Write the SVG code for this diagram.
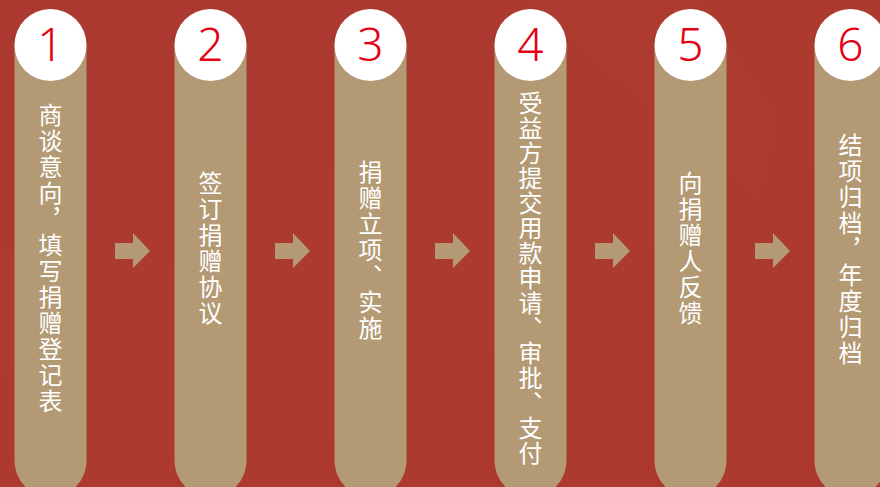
<svg xmlns="http://www.w3.org/2000/svg" width="880" height="487" viewBox="0 0 880 487">
  <defs>
    <linearGradient id="bg" x1="0" y1="0" x2="1" y2="1">
      <stop offset="0" stop-color="#AC3930"/>
      <stop offset="0.5" stop-color="#AD3A2F"/>
      <stop offset="1" stop-color="#AB392F"/>
    </linearGradient>
    <path id="pillShape" d="M0,0 H72 V416 A36,36 0 0 1 0,416 Z"/>
    <style>
      .pill { fill: #B39A74; }
      .cap { fill: #FFFFFF; }
      .num { font-family: "Noto Sans", "Open Sans", sans-serif; font-weight: 300; font-size: 46px; fill: #E50012; text-anchor: middle; }
      .lbl { font-family: "Noto Sans CJK SC", sans-serif; font-size: 24px; fill: #FFFFFF; writing-mode: vertical-rl; letter-spacing: 2px; }
      .arrow { fill: #B39A74; }
    </style>
  </defs>
  <rect x="0" y="0" width="880" height="487" fill="url(#bg)"/>
  <polygon points="520,0 700,0 780,120 760,200" fill="#B5443A" opacity="0.18"/>
  <polygon points="0,240 60,320 0,380" fill="#B5443A" opacity="0.2"/>

  <g id="step1">
    <use href="#pillShape" class="pill" x="14.5" y="45"/>
    <circle class="cap" cx="50.5" cy="45" r="36"/>
    <text class="num" x="50.5" y="61">1</text>
    <text class="lbl" x="50.5" y="103">商谈意向，填写捐赠登记表</text>
  </g>
  <g id="step2">
    <use href="#pillShape" class="pill" x="174.5" y="45"/>
    <circle class="cap" cx="210.5" cy="45" r="36"/>
    <text class="num" x="210.5" y="61">2</text>
    <text class="lbl" x="210.5" y="171">签订捐赠协议</text>
  </g>
  <g id="step3">
    <use href="#pillShape" class="pill" x="334.5" y="45"/>
    <circle class="cap" cx="370.5" cy="45" r="36"/>
    <text class="num" x="370.5" y="61">3</text>
    <text class="lbl" x="370.5" y="160">捐赠立项、实施</text>
  </g>
  <g id="step4">
    <use href="#pillShape" class="pill" x="494.5" y="45"/>
    <circle class="cap" cx="530.5" cy="45" r="36"/>
    <text class="num" x="530.5" y="61">4</text>
    <text class="lbl" x="530.5" y="91" style="letter-spacing:1px">受益方提交用款申请、审批、支付</text>
  </g>
  <g id="step5">
    <use href="#pillShape" class="pill" x="654.5" y="45"/>
    <circle class="cap" cx="690.5" cy="45" r="36"/>
    <text class="num" x="690.5" y="61">5</text>
    <text class="lbl" x="690.5" y="171">向捐赠人反馈</text>
  </g>
  <g id="step6">
    <use href="#pillShape" class="pill" x="814.5" y="45"/>
    <circle class="cap" cx="850.5" cy="45" r="36"/>
    <text class="num" x="850.5" y="61">6</text>
    <text class="lbl" x="850.5" y="133">结项归档，年度归档</text>
  </g>

  <g id="connectors">
    <polygon class="arrow" points="115,243 133,243 133,233 150,251 133,268 133,259 115,259"/>
    <polygon class="arrow" points="275,243 293,243 293,233 310,251 293,268 293,259 275,259"/>
    <polygon class="arrow" points="435,243 453,243 453,233 470,251 453,268 453,259 435,259"/>
    <polygon class="arrow" points="595,243 613,243 613,233 630,251 613,268 613,259 595,259"/>
    <polygon class="arrow" points="755,243 773,243 773,233 790,251 773,268 773,259 755,259"/>
  </g>
</svg>
